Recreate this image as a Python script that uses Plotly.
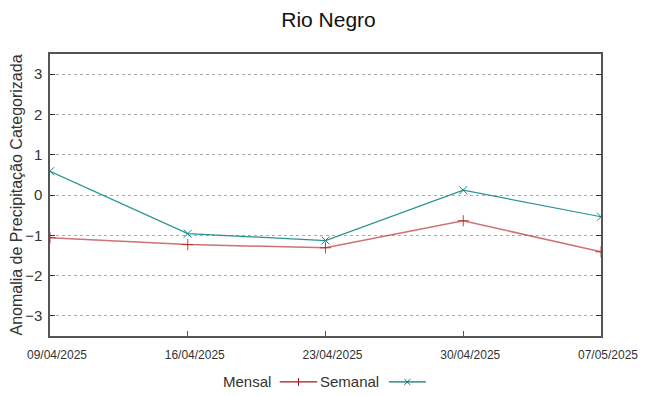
import plotly.graph_objects as go

dates = ["2025-04-09", "2025-04-16", "2025-04-23", "2025-04-30", "2025-05-07"]
tick_labels = ["09/04/2025", "16/04/2025", "23/04/2025", "30/04/2025", "07/05/2025"]
series_names = ["Mensal", "Semanal"]
mensal = [-1.06, -1.23, -1.31, -0.64, -1.41]
semanal = [0.59, -0.96, -1.13, 0.12, -0.54]

red_line = "rgba(176,40,40,0.65)"
red_mark = "rgba(176,40,40,0.85)"
red_leg = "#a01818"
teal_line = "rgba(0,128,128,0.85)"
teal_mark = "rgba(0,128,128,0.9)"
teal_leg = "#0a7272"

fig = go.Figure()
fig.add_trace(go.Scatter(x=dates, y=mensal, name=series_names[0], mode="lines+markers",
                         line=dict(color=red_line, width=1.5),
                         marker=dict(symbol="cross-thin", size=8, color=red_mark,
                                     line=dict(width=1, color=red_mark))))
fig.add_trace(go.Scatter(x=dates, y=semanal, name=series_names[1], mode="lines+markers",
                         line=dict(color=teal_line, width=1.2),
                         marker=dict(symbol="x-thin", size=8, color=teal_mark,
                                     line=dict(width=1, color=teal_mark))))

# custom legend (text before sample, gnuplot style)
leg_y = -0.163
leg_font = dict(size=15, color="#333", family="Liberation Sans, Arial, sans-serif")
legend_items = [
    (series_names[0], 0.405, 0.417, 0.485, red_leg, "plus"),
    (series_names[1], 0.6007, 0.615, 0.682, teal_leg, "x"),
]
for name, tx, x0, x1, col, sym in legend_items:
    fig.add_annotation(x=tx, y=leg_y, xref="paper", yref="paper", text=name, showarrow=False,
                       xanchor="right", yanchor="middle", font=leg_font)
    fig.add_shape(type="line", xref="paper", yref="paper", x0=x0, x1=x1, y0=leg_y, y1=leg_y,
                  line=dict(color=col, width=1.2))
    xm = (x0 + x1) / 2
    if sym == "plus":
        fig.add_shape(type="line", xref="paper", yref="paper", x0=xm, x1=xm,
                      y0=leg_y - 0.014, y1=leg_y + 0.014, line=dict(color=col, width=1))
    else:
        dx, dy = 0.0055, 0.0105
        fig.add_shape(type="line", xref="paper", yref="paper", x0=xm - dx, x1=xm + dx,
                      y0=leg_y - dy, y1=leg_y + dy, line=dict(color=col, width=1))
        fig.add_shape(type="line", xref="paper", yref="paper", x0=xm - dx, x1=xm + dx,
                      y0=leg_y + dy, y1=leg_y - dy, line=dict(color=col, width=1))

fig.update_layout(
    width=641, height=388,
    margin=dict(l=42, r=48, t=46, b=60, autoexpand=False),
    paper_bgcolor="white", plot_bgcolor="white",
    font=dict(family="Liberation Sans, Arial, sans-serif", color="#222"),
    title=dict(text="Rio Negro", x=0.5, xanchor="center", y=0.97, yanchor="middle",
               font=dict(size=21, color="#111")),
    showlegend=False,
)
fig.update_xaxes(type="date", range=[dates[0], dates[-1]], tickvals=dates, ticktext=tick_labels,
                 ticks="inside", ticklen=5, tickcolor="#555", showgrid=False,
                 showline=True, linecolor="#555", linewidth=1.5, mirror=True,
                 tickfont=dict(size=12, color="#333"), zeroline=False,
                 automargin=False, ticklabelstandoff=7, ticklabelshift=7)
fig.update_yaxes(range=[-3.5, 3.5], tickvals=[-3, -2, -1, 0, 1, 2, 3],
                 ticks="inside", ticklen=5, tickcolor="#333",
                 showgrid=True, gridcolor="#aaaaaa", griddash="dot", gridwidth=1,
                 showline=True, linecolor="#555", linewidth=1.5, mirror="ticks",
                 tickfont=dict(size=15, color="#333"), zeroline=False, automargin=False,
                 ticklabelstandoff=3,
                 title=dict(text="Anomalia de Precipitação Categorizada", font=dict(size=16, color="#333"),
                            standoff=2))
fig.write_html("out.html")
